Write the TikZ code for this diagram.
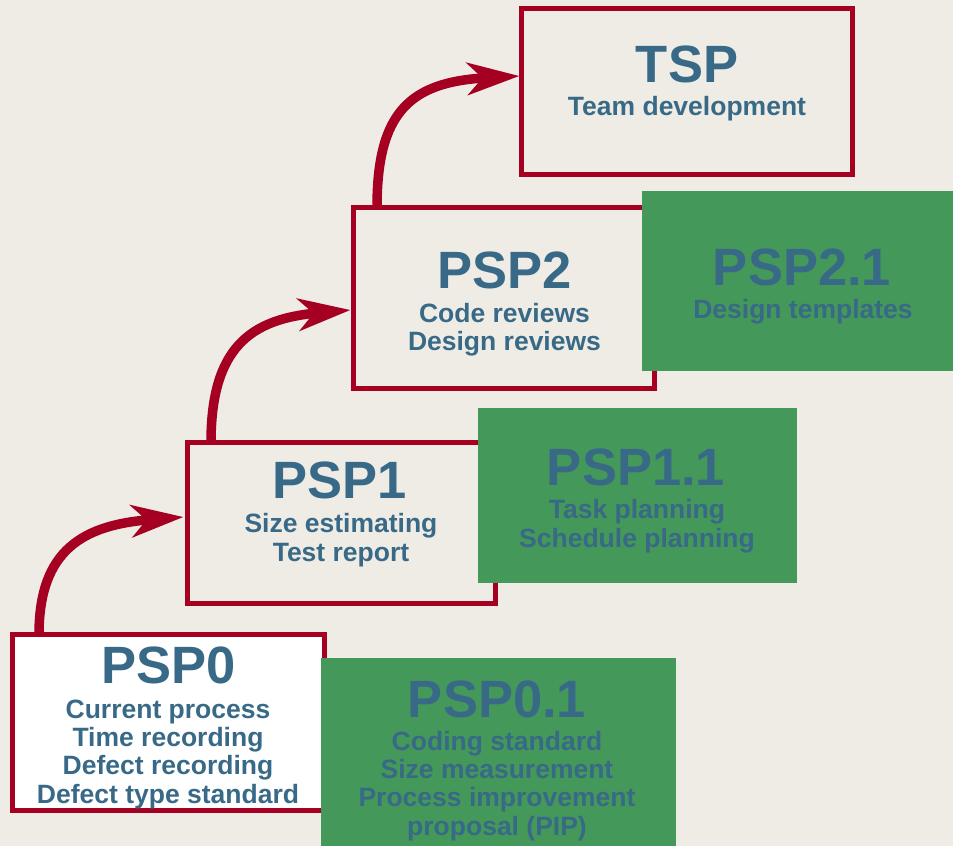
\documentclass[tikz,border=0pt]{standalone}
\usepackage{fontspec}
\setmainfont{Liberation Sans}
\usetikzlibrary{arrows.meta,calc}

\definecolor{bgc}{RGB}{239,236,230}
\definecolor{framered}{RGB}{165,0,33}
\definecolor{levelgreen}{RGB}{68,152,90}
\definecolor{textblue}{RGB}{56,106,135}

\tikzset{
  stage/.style={draw=framered, line width=5pt, fill=bgc, rectangle, inner sep=0pt, outer sep=0pt},
  extra/.style={fill=levelgreen, rectangle, inner sep=0pt, outer sep=0pt},
  title/.style={inner sep=0pt, anchor=base, text=textblue, font=\fontsize{52.5}{60}\selectfont\bfseries},
  sub/.style={inner sep=0pt, anchor=base, text=textblue, font=\fontsize{26.5}{28}\selectfont\bfseries},
  climb/.style={draw=framered, line width=9.5pt, -{Stealth[length=52pt,width=32pt,inset=15pt]}},
}

\begin{document}
\begin{tikzpicture}[x=1pt,y=-1pt]
  % page and background
  \fill[bgc] (0,0) rectangle (953,846);
  \useasboundingbox (0,0) rectangle (953,846);

  % stage frames
  \node[stage, fill=white, minimum width=312pt, minimum height=176pt] (psp0) at (168.5,722.5) {};
  \node[stage, minimum width=308pt, minimum height=161pt] (psp1) at (341.5,523) {};
  \node[stage, minimum width=301pt, minimum height=181pt] (psp2) at (504,298) {};
  \node[stage, minimum width=331pt, minimum height=166pt] (tsp) at (687,91.5) {};

  % upgrade levels, laid over the right edge of each frame
  \node[extra, minimum width=355pt, minimum height=188pt] (psp01) at (498.5,752) {};
  \node[extra, minimum width=319pt, minimum height=175pt] (psp11) at (637.5,495.5) {};
  \node[extra, minimum width=311pt, minimum height=180pt] (psp21) at (797.5,281) {};

  % climbing arrows
  \coordinate (s0) at ($(psp0.north west)+(26.5,0)$);
  \coordinate (e0) at ($(psp1.west)+(-4,-6)$);
  \coordinate (s1) at ($(psp1.north west)+(23.5,0)$);
  \coordinate (e1) at ($(psp2.west)+(-3,12)$);
  \coordinate (s2) at ($(psp2.north west)+(23.5,0)$);
  \coordinate (e2) at ($(tsp.west)+(-2,-15.5)$);
  \draw[climb] (s0) .. controls +(0,-85) and +(-100,8) .. (e0);
  \draw[climb] (s1) .. controls +(0,-95) and +(-100,9) .. (e1);
  \draw[climb] (s2) .. controls +(0,-95) and +(-110,6) .. (e2);

  % TSP
  \node[title] (tspt) at (687,82) {TSP};
  \node[sub] (tspl) at (687,115) {Team development};

  % PSP2
  \node[title] (psp2t) at (504.5,288) {PSP2};
  \foreach \t [count=\i from 0] in {Code reviews, Design reviews}
    \node[sub] (psp2l\i) at (504.5,322+28.3*\i) {\t};

  % PSP2.1
  \node[title] (psp21t) at (802,285) {PSP2.1};
  \node[sub] (psp21l) at (803,318) {Design templates};

  % PSP1
  \node[title] (psp1t) at (340,498) {PSP1};
  \foreach \t [count=\i from 0] in {Size estimating, Test report}
    \node[sub] (psp1l\i) at (341,532+29*\i) {\t};

  % PSP1.1
  \node[title] (psp11t) at (636,485) {PSP1.1};
  \foreach \t [count=\i from 0] in {Task planning, Schedule planning}
    \node[sub] (psp11l\i) at (637,518+29*\i) {\t};

  % PSP0
  \node[title] (psp0t) at (169,683) {PSP0};
  \foreach \t [count=\i from 0] in {Current process, Time recording, Defect recording, Defect type standard}
    \node[sub] (psp0l\i) at (168,718+28.4*\i) {\t};

  % PSP0.1
  \node[title] (psp01t) at (497,717) {PSP0.1};
  \foreach \t [count=\i from 0] in {Coding standard, Size measurement, Process improvement, proposal (PIP)}
    \node[sub] (psp01l\i) at (497,750+28.4*\i) {\t};
\end{tikzpicture}
\end{document}
